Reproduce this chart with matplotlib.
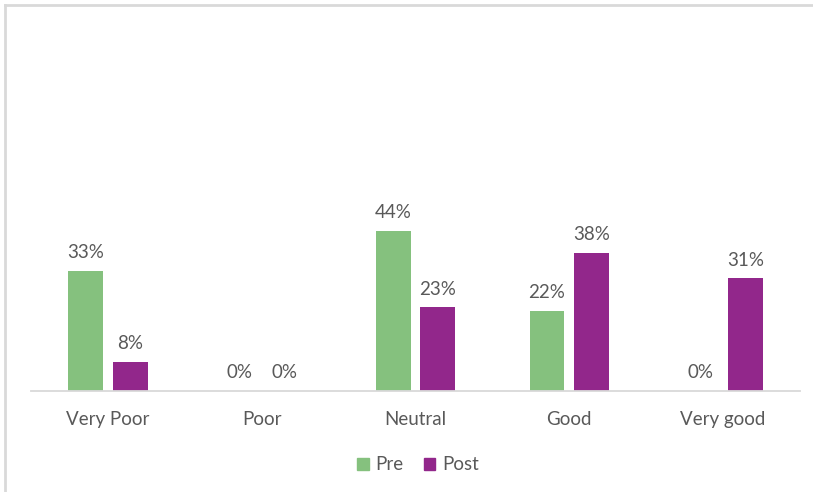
import numpy as np
import matplotlib.pyplot as plt
from matplotlib.patches import Patch
from matplotlib.lines import Line2D

categories = ['Very Poor', 'Poor', 'Neutral', 'Good', 'Very good']
pre = [33, 0, 44, 22, 0]
post = [8, 0, 23, 38, 31]
series_names = ['Pre', 'Post']

GREEN = '#85c17e'
PURPLE = '#92278b'
TEXT = '#595959'

plt.rcParams['font.family'] = ['Lato', 'DejaVu Sans']

fig = plt.figure(figsize=(8.13, 4.92), dpi=100)
W, H = 813, 492
ax = fig.add_axes([31 / W, (H - 390.5) / H, 769 / W, 362 / H])

x = np.arange(len(categories))
bw = 0.226
off = 0.145
b1 = ax.bar(x - off, pre, bw, color=GREEN)
b2 = ax.bar(x + off, post, bw, color=PURPLE)

for bars, vals in [(b1, pre), (b2, post)]:
    for b, v in zip(bars, vals):
        ax.annotate(f'{v}%', (b.get_x() + b.get_width() / 2, v),
                    xytext=(0, 7), textcoords='offset points',
                    ha='center', va='bottom', fontsize=13.5, color=TEXT)

ax.set_xlim(-0.5, len(categories) - 0.5)
ax.set_ylim(0, 100)
ax.set_yticks([])
ax.set_xticks(x)
ax.set_xticklabels(categories, fontsize=13.5, color=TEXT)
ax.tick_params(axis='x', length=0, pad=14.5)
for s in ['top', 'right', 'left']:
    ax.spines[s].set_visible(False)
ax.spines['bottom'].set_color('#d9d9d9')
ax.spines['bottom'].set_linewidth(1.3)

handles = [Patch(color=GREEN), Patch(color=PURPLE)]
fig.legend(handles, series_names, loc='center', bbox_to_anchor=(418 / W, (H - 465) / H),
           ncol=2, frameon=False, fontsize=13.5, labelcolor=TEXT,
           handlelength=0.6, handleheight=0.6, handletextpad=0.35, columnspacing=1.1)

# chart frame (only top and left edges visible in the crop)
fig.add_artist(Line2D([5 / W, 1], [(H - 5) / H, (H - 5) / H], color='#d9d9d9', lw=2))
fig.add_artist(Line2D([5 / W, 5 / W], [0, (H - 5) / H], color='#d9d9d9', lw=2))

fig.savefig('out.png')
